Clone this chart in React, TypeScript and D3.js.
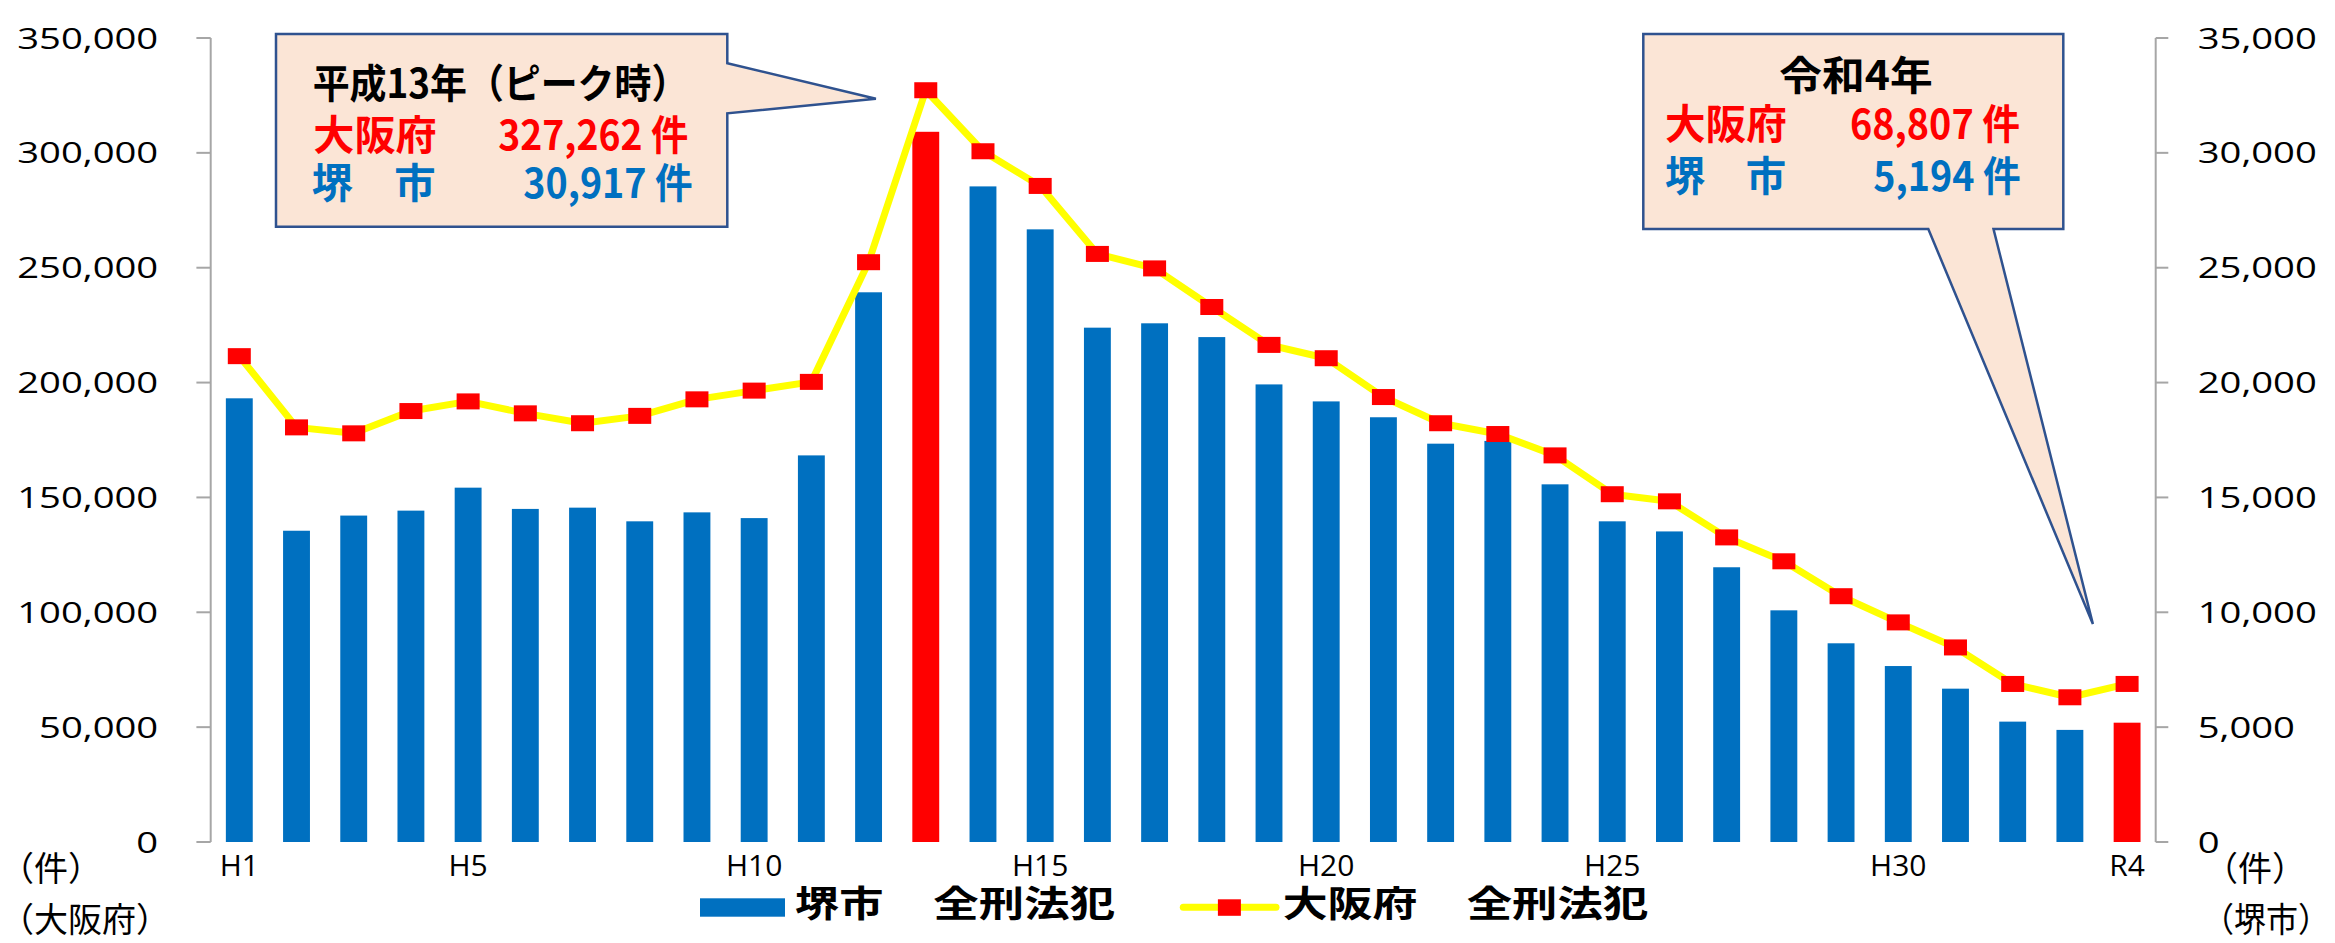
import React from "react";
import * as d3 from "d3";

const categories = [
  "H1","H2","H3","H4","H5","H6","H7","H8","H9","H10",
  "H11","H12","H13","H14","H15","H16","H17","H18","H19","H20",
  "H21","H22","H23","H24","H25","H26","H27","H28","H29","H30",
  "R1","R2","R3","R4",
];
// 大阪府 全刑法犯 (left axis)
const osakaValues = [
  211500, 180500, 177900, 187600, 191800, 186600, 182300, 185500, 192700, 196500,
  200300, 252400, 327262, 300700, 285600, 256000, 249700, 232900, 216400, 210600,
  193700, 182300, 177600, 168300, 151400, 148300, 132600, 122200, 107000, 95600,
  84700, 68800, 63000, 68807,
];
// 堺市 全刑法犯 (right axis)
const sakaiValues = [
  19315, 13550, 14210, 14425, 15425, 14500, 14555, 13960, 14350, 14100,
  16830, 23930, 30917, 28540, 26670, 22390, 22580, 21980, 19920, 19180,
  18490, 17340, 17460, 15570, 13960, 13520, 11960, 10085, 8650, 7660,
  6675, 5240, 4880, 5194,
];
const highlighted = ["H13", "R4"];
const xTickLabels = ["H1", "H5", "H10", "H15", "H20", "H25", "H30", "R4"];
const leftTicks = [0, 50000, 100000, 150000, 200000, 250000, 300000, 350000];
const rightTicks = [0, 5000, 10000, 15000, 20000, 25000, 30000, 35000];

const W = 2335;
const H = 943;
const plotLeft = 210.7;
const plotRight = 2155.7;
const plotTop = 38;
const plotBottom = 842;

const BLUE = "#0070C0";
const RED = "#FF0000";
const YELLOW = "#FFFF00";
const AXIS = "#A6A6A6";
const BOX_FILL = "#FBE5D6";
const BOX_STROKE = "#2F528F";
const JP = "'Noto Sans CJK JP', sans-serif";
const NUM = "'Open Sans', sans-serif";

export default function App() {
  const x = d3.scaleBand<string>().domain(categories).range([plotLeft, plotRight]).padding(0);
  const yL = d3.scaleLinear().domain([0, 350000]).range([plotBottom, plotTop]);
  const yR = d3.scaleLinear().domain([0, 35000]).range([plotBottom, plotTop]);
  const fmt = d3.format(",");
  const barW = x.step() * 0.47;
  const cx = (c: string) => (x(c) as number) + x.bandwidth() / 2;

  const linePath = d3
    .line<number>()
    .x((_, i) => cx(categories[i]))
    .y((d) => yL(d))(osakaValues) as string;

  const box1 = "M276,34 H727.3 V63.3 L875.9,98.7 L727.3,113.3 V226.7 H276 Z";
  const box2 = "M1643.3,34 H2063.3 V229 H1993.5 L2092.9,624 L1928.3,229 H1643.3 Z";

  return (
    <svg
      width={W}
      height={H}
      viewBox={`0 0 ${W} ${H}`}
      style={{ position: "absolute", left: 0, top: 0, background: "#fff" }}
    >
      {/* bars */}
      {categories.map((c, i) => (
        <rect
          key={c}
          x={cx(c) - barW / 2}
          y={yR(sakaiValues[i])}
          width={barW}
          height={plotBottom - yR(sakaiValues[i])}
          fill={highlighted.includes(c) ? RED : BLUE}
        />
      ))}

      {/* axes */}
      <line x1={plotLeft} x2={plotLeft} y1={plotTop} y2={plotBottom} stroke={AXIS} strokeWidth={2} />
      <line x1={plotRight} x2={plotRight} y1={plotTop} y2={plotBottom} stroke={AXIS} strokeWidth={2} />
      {leftTicks.map((t) => (
        <g key={"l" + t}>
          <line x1={196.4} x2={plotLeft} y1={yL(t)} y2={yL(t)} stroke={AXIS} strokeWidth={2} />
          <text
            transform={`translate(158.2,${yL(t) + 10.5}) scale(1.3,1)`}
            textAnchor="end"
            fontFamily={NUM}
            fontSize={29.4}
            fill="#000"
          >
            {fmt(t)}
          </text>
        </g>
      ))}
      {rightTicks.map((t) => (
        <g key={"r" + t}>
          <line x1={plotRight} x2={2168.3} y1={yR(t)} y2={yR(t)} stroke={AXIS} strokeWidth={2} />
          <text
            transform={`translate(2197.7,${yR(t) + 10.5}) scale(1.3,1)`}
            textAnchor="start"
            fontFamily={NUM}
            fontSize={29.4}
            fill="#000"
          >
            {fmt(t)}
          </text>
        </g>
      ))}
      {xTickLabels.map((c) => (
        <text
          key={"x" + c}
          x={cx(c)}
          y={875.5}
          textAnchor="middle"
          fontFamily={NUM}
          fontSize={30}
          fill="#000"
        >
          {c}
        </text>
      ))}

      {/* line + markers */}
      <path d={linePath} fill="none" stroke={YELLOW} strokeWidth={7} strokeLinejoin="round" />
      {categories.map((c, i) => (
        <rect
          key={"m" + c}
          x={cx(c) - 11.5}
          y={yL(osakaValues[i]) - 8}
          width={23}
          height={16}
          fill={RED}
        />
      ))}

      {/* unit labels */}
      <g fontFamily={JP} fontSize={34} fill="#000">
        <text x={0} y={881}>（件）</text>
        <text x={0} y={932} textLength={170} lengthAdjust="spacingAndGlyphs">（大阪府）</text>
        <text x={2204} y={881}>（件）</text>
        <text x={2202} y={932} textLength={128} lengthAdjust="spacingAndGlyphs">（堺市）</text>
      </g>

      {/* legend */}
      <rect x={700} y={898.3} width={85} height={18.4} fill={BLUE} />
      <g fontFamily={JP} fontSize={36} fontWeight={700} fill="#000">
        <text x={795} y={917} textLength={88.3} lengthAdjust="spacingAndGlyphs">堺市</text>
        <text x={933.3} y={917} textLength={181.7} lengthAdjust="spacingAndGlyphs">全刑法犯</text>
        <text x={1282.7} y={917} textLength={134.7} lengthAdjust="spacingAndGlyphs">大阪府</text>
        <text x={1466.7} y={917} textLength={181.6} lengthAdjust="spacingAndGlyphs">全刑法犯</text>
      </g>
      <line x1={1183.3} x2={1276} y1={907.3} y2={907.3} stroke={YELLOW} strokeWidth={7} strokeLinecap="round" />
      <rect x={1217.9} y={899.3} width={23} height={16.5} fill={RED} />

      {/* callout 1 */}
      <path d={box1} fill={BOX_FILL} stroke={BOX_STROKE} strokeWidth={2.5} />
      <g fontFamily={JP} fontWeight={700}>
        <text x={312.7} y={98} fontSize={40} fill="#000" textLength={375.6} lengthAdjust="spacingAndGlyphs">平成13年（ピーク時）</text>
        <text x={313.3} y={150} fontSize={41} fill={RED} textLength={123.4} lengthAdjust="spacingAndGlyphs">大阪府</text>
        <text x={498.3} y={150} fontSize={41} fill={RED} textLength={190} lengthAdjust="spacingAndGlyphs">327,262 件</text>
        <text x={311.7} y={198} fontSize={41} fill={BLUE} textLength={124} lengthAdjust="spacingAndGlyphs">堺　市</text>
        <text x={523.3} y={198} fontSize={41} fill={BLUE} textLength={169.4} lengthAdjust="spacingAndGlyphs">30,917 件</text>
      </g>

      {/* callout 2 */}
      <path d={box2} fill={BOX_FILL} stroke={BOX_STROKE} strokeWidth={2.5} />
      <g fontFamily={JP} fontWeight={700}>
        <text x={1779.3} y={90} fontSize={40} fill="#000" textLength={153.4} lengthAdjust="spacingAndGlyphs">令和4年</text>
        <text x={1665} y={139} fontSize={41} fill={RED} textLength={121.7} lengthAdjust="spacingAndGlyphs">大阪府</text>
        <text x={1850} y={139} fontSize={41} fill={RED} textLength={170} lengthAdjust="spacingAndGlyphs">68,807 件</text>
        <text x={1665} y={191} fontSize={41} fill={BLUE} textLength={121} lengthAdjust="spacingAndGlyphs">堺　市</text>
        <text x={1873.3} y={191} fontSize={41} fill={BLUE} textLength={147.4} lengthAdjust="spacingAndGlyphs">5,194 件</text>
      </g>
    </svg>
  );
}
